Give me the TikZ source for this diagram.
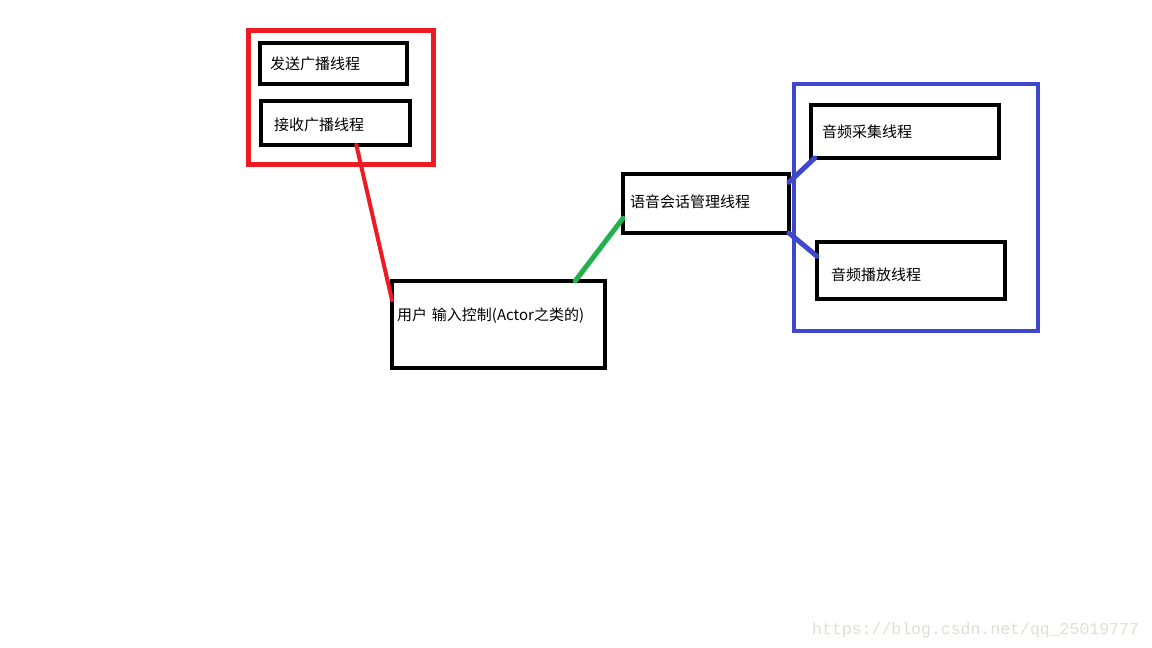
\documentclass[tikz,border=0pt]{standalone}
\usepackage{fontspec}
\usepackage{tikz}
\usetikzlibrary{calc}
\newfontfamily\cjk{Noto Sans CJK SC}
\newfontfamily\wmfont{Liberation Mono}
\definecolor{paintred}{RGB}{237, 28, 36}
\definecolor{paintgreen}{RGB}{34, 177, 76}
\definecolor{paintblue}{RGB}{63, 72, 204}
\definecolor{wmgray}{RGB}{222, 222, 214}

\begin{document}
\begin{tikzpicture}[x=1pt, y=-1pt,
    every node/.style={font=\cjk\fontsize{15}{18}\selectfont},
    box/.style={draw, line width=4.5pt, anchor=north west, outer sep=0pt, inner ysep=0pt, align=left},
    frame/.style={draw, anchor=north west, outer sep=0pt, inner sep=0pt},
    link/.style={line width=4pt, line cap=round}]
  \useasboundingbox (0,0) rectangle (1152,648);
  % group frames
  \node[frame, paintred, line width=5pt, minimum width=185pt, minimum height=134pt] (bcast) at (248,30) {};
  \node[frame, paintblue, line width=4pt, minimum width=244pt, minimum height=247pt] (audio) at (794,84) {};
  % thread boxes
  \node[box, inner xsep=10pt, text width=127pt, text height=26.7pt, text depth=14.3pt] (send) at (260,43) {发送广播线程};
  \node[box, inner xsep=13pt, text width=123pt, text height=29.7pt, text depth=14.3pt] (recv) at (261,101) {接收广播线程};
  \node[box, inner xsep=5pt, text width=203pt, text height=39.7pt, text depth=47.3pt] (user) at (392,281) {用户 输入控制(Actor之类的)};
  \node[box, inner xsep=7pt, text width=152pt, text height=33.4pt, text depth=25.6pt] (voice) at (623,174) {语音会话管理线程};
  \node[box, inner xsep=11pt, text width=166pt, text height=32.4pt, text depth=20.6pt] (cap) at (811,105) {音频采集线程};
  \node[box, inner xsep=14pt, text width=160pt, text height=38.7pt, text depth=18.3pt] (play) at (817,242) {音频播放线程};
  % connectors
  \draw[link, paintred] ($(recv.south west)!.64!(recv.south east)$) -- ($(user.north west)!.22!(user.south west)$);
  \draw[link, paintgreen, line width=5pt] ($(user.north west)!.86!(user.north east)$) -- ($(voice.north west)!.75!(voice.south west)$);
  \draw[link, paintblue, line width=5pt] ($(voice.north east)!.14!(voice.south east)$) -- ($(cap.south west)!.02!(cap.south east)$);
  \draw[link, paintblue, line width=5pt] (voice.south east) -- ($(play.north west)!.25!(play.south west)$);
  % watermark
  \node[font=\wmfont\fontsize{16.5}{18}\selectfont, text=wmgray, anchor=base west, inner sep=0pt] (mark) at (812,634) {https://blog.csdn.net/qq\_25019777};
\end{tikzpicture}
\end{document}
